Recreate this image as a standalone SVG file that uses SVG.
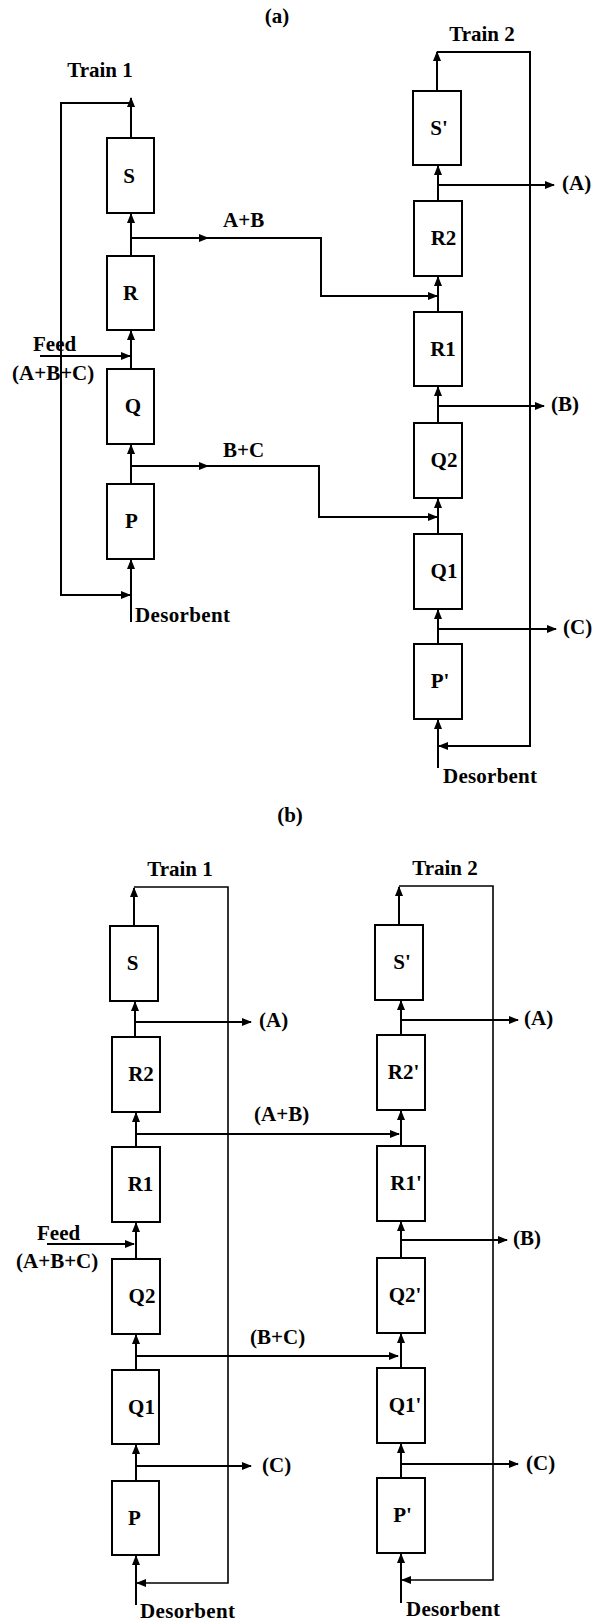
<svg xmlns="http://www.w3.org/2000/svg" width="594" height="1624" viewBox="0 0 594 1624">
<defs>
<marker id="ah" markerWidth="10" markerHeight="8" refX="9" refY="4" orient="auto" markerUnits="userSpaceOnUse">
<path d="M0,0 L10,4 L0,8 z" fill="#000"/>
</marker>
<style>
text{font-family:"Liberation Serif","Times New Roman",serif;font-weight:bold;font-size:21px;fill:#000}
.m{text-anchor:middle}
.box{fill:#fff;stroke:#000;stroke-width:2}
.a{fill:none;stroke:#000;stroke-width:2;marker-end:url(#ah)}
.ta{fill:none;stroke:#000;stroke-width:1.6;marker-end:url(#ah)}
</style>
</defs>
<rect width="594" height="1624" fill="#fff"/>

<g id="connectors">
<!-- (a) train 1 -->
<path class="a" d="M131,138 V98"/>
<path class="a" d="M131,103 H61 V595 H130"/>
<path class="a" d="M131,256 V214"/>
<path class="a" d="M131,238 H208"/>
<path class="a" d="M205,238 H321 V296 H437"/>
<path class="a" d="M131,369 V331"/>
<path class="a" d="M40,356 H130"/>
<path class="a" d="M131,484 V445"/>
<path class="a" d="M131,466 H208"/>
<path class="a" d="M205,466 H319 V517 H437"/>
<path class="a" d="M131,622 V560"/>
<!-- (a) train 2 -->
<path class="a" d="M437,91 V52"/>
<path class="a" d="M437,52 H530 V746 H439"/>
<path class="a" d="M438,201 V166"/>
<path class="a" d="M438,185 H554"/>
<path class="a" d="M438,312 V277"/>
<path class="a" d="M438,423 V387"/>
<path class="a" d="M438,406 H544"/>
<path class="a" d="M438,534 V499"/>
<path class="a" d="M438,644 V610"/>
<path class="a" d="M438,629 H556"/>
<path class="a" d="M438,768 V720"/>
<!-- (b) train 1 -->
<path class="a" d="M134,926 V888"/>
<path class="ta" d="M134,887 H228 V1583 H137"/>
<path class="a" d="M135,1037 V1002"/>
<path class="a" d="M135,1022 H251"/>
<path class="a" d="M136,1147 V1113"/>
<path class="a" d="M136,1134 H399"/>
<path class="a" d="M136,1259 V1223"/>
<path class="a" d="M47,1244 H134"/>
<path class="a" d="M136,1370 V1335"/>
<path class="a" d="M136,1356 H398"/>
<path class="a" d="M136,1481 V1445"/>
<path class="a" d="M136,1466 H251"/>
<path class="a" d="M136,1605 V1556"/>
<!-- (b) train 2 -->
<path class="a" d="M399,925 V887"/>
<path class="ta" d="M399,886 H493 V1580 H402"/>
<path class="a" d="M401,1035 V1001"/>
<path class="a" d="M400,1020 H518"/>
<path class="a" d="M401,1146 V1111"/>
<path class="a" d="M401,1258 V1222"/>
<path class="a" d="M401,1240 H507"/>
<path class="a" d="M401,1368 V1334"/>
<path class="a" d="M401,1478 V1444"/>
<path class="a" d="M401,1464 H518"/>
<path class="a" d="M401,1603 V1554"/>
</g>

<!-- (a) train 1 nodes -->
<g id="a-S"><rect class="box" x="107" y="138" width="47" height="75"/><text class="m" x="129" y="183">S</text></g>
<g id="a-R"><rect class="box" x="107" y="256" width="47" height="74"/><text class="m" x="130.5" y="300">R</text></g>
<g id="a-Q"><rect class="box" x="107" y="369" width="47" height="75"/><text class="m" x="133" y="413">Q</text></g>
<g id="a-P"><rect class="box" x="107" y="484" width="47" height="75"/><text class="m" x="131.5" y="528">P</text></g>
<!-- (a) train 2 nodes -->
<g id="a-S2"><rect class="box" x="413" y="91" width="48" height="74"/><text class="m" x="439" y="135">S'</text></g>
<g id="a-R2"><rect class="box" x="414" y="201" width="48" height="75"/><text class="m" x="443.5" y="245">R2</text></g>
<g id="a-R1"><rect class="box" x="414" y="312" width="48" height="74"/><text class="m" x="443" y="356">R1</text></g>
<g id="a-Q2"><rect class="box" x="414" y="423" width="48" height="75"/><text class="m" x="444" y="467">Q2</text></g>
<g id="a-Q1"><rect class="box" x="414" y="534" width="48" height="75"/><text class="m" x="444" y="578">Q1</text></g>
<g id="a-P2"><rect class="box" x="414" y="644" width="48" height="75"/><text class="m" x="440" y="688">P'</text></g>

<!-- (b) train 1 nodes -->
<g id="b-S"><rect class="box" x="110" y="926" width="48" height="75"/><text class="m" x="132.5" y="970">S</text></g>
<g id="b-R2"><rect class="box" x="112" y="1037" width="48" height="75"/><text class="m" x="141" y="1081">R2</text></g>
<g id="b-R1"><rect class="box" x="112" y="1147" width="48" height="75"/><text class="m" x="140.5" y="1191">R1</text></g>
<g id="b-Q2"><rect class="box" x="112" y="1259" width="48" height="75"/><text class="m" x="142" y="1303">Q2</text></g>
<g id="b-Q1"><rect class="box" x="112" y="1370" width="47" height="74"/><text class="m" x="141.5" y="1414">Q1</text></g>
<g id="b-P"><rect class="box" x="112" y="1481" width="47" height="74"/><text class="m" x="134.5" y="1525">P</text></g>
<!-- (b) train 2 nodes -->
<g id="b-S2"><rect class="box" x="375" y="925" width="48" height="75"/><text class="m" x="402" y="969">S'</text></g>
<g id="b-R22"><rect class="box" x="377" y="1035" width="48" height="75"/><text class="m" x="403.5" y="1079">R2'</text></g>
<g id="b-R12"><rect class="box" x="377" y="1146" width="48" height="75"/><text class="m" x="406" y="1190">R1'</text></g>
<g id="b-Q22"><rect class="box" x="377" y="1258" width="48" height="75"/><text class="m" x="405" y="1302">Q2'</text></g>
<g id="b-Q12"><rect class="box" x="377" y="1368" width="48" height="75"/><text class="m" x="405" y="1412">Q1'</text></g>
<g id="b-P2"><rect class="box" x="377" y="1478" width="48" height="75"/><text class="m" x="402.5" y="1522">P'</text></g>

<g id="labels">
<text class="m" x="277" y="23">(a)</text>
<text class="m" x="100" y="77">Train 1</text>
<text class="m" x="482" y="41">Train 2</text>
<text x="223" y="227">A+B</text>
<text x="223" y="457">B+C</text>
<text x="33" y="351">Feed</text>
<text x="12" y="380">(A+B+C)</text>
<text x="135" y="622" textLength="95" lengthAdjust="spacing">Desorbent</text>
<text x="562" y="190">(A)</text>
<text x="551" y="411">(B)</text>
<text x="563" y="634">(C)</text>
<text x="443" y="783" textLength="94" lengthAdjust="spacing">Desorbent</text>

<text class="m" x="290" y="822">(b)</text>
<text class="m" x="180" y="876">Train 1</text>
<text class="m" x="445" y="875">Train 2</text>
<text x="259" y="1027">(A)</text>
<text x="254" y="1121">(A+B)</text>
<text x="37" y="1240">Feed</text>
<text x="16" y="1268">(A+B+C)</text>
<text x="250" y="1344">(B+C)</text>
<text x="262" y="1472">(C)</text>
<text x="140" y="1618" textLength="95" lengthAdjust="spacing">Desorbent</text>
<text x="524" y="1025">(A)</text>
<text x="513" y="1245">(B)</text>
<text x="526" y="1470">(C)</text>
<text x="406" y="1616" textLength="94" lengthAdjust="spacing">Desorbent</text>
</g>
</svg>
